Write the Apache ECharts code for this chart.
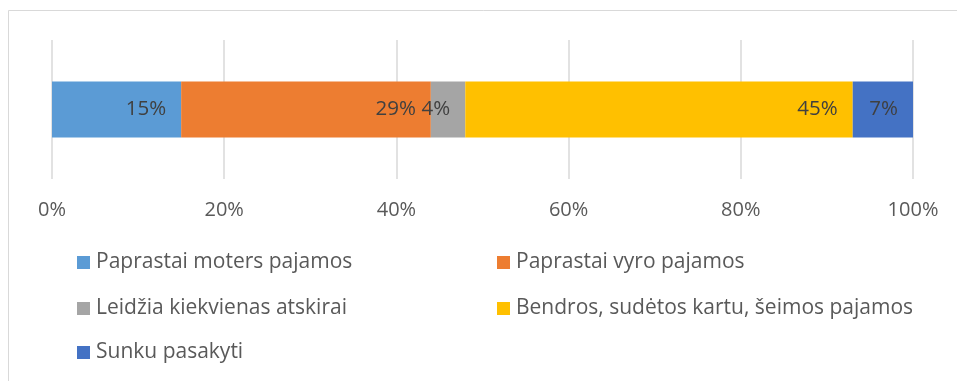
<!DOCTYPE html>
<html>
<head>
<meta charset="utf-8">
<script src="https://cdn.jsdelivr.net/npm/echarts@6/dist/echarts.min.js"></script>
<style>
  html, body { margin: 0; padding: 0; background: #fff; }
  #chart { width: 957px; height: 381px; }
</style>
</head>
<body>
<div id="chart"></div>
<script>
// Answers about who manages the household money (share of respondents, %)
const categories = ['Visi'];
const seriesNames = [
  'Paprastai moters pajamos',
  'Paprastai vyro pajamos',
  'Leidžia kiekvienas atskirai',
  'Bendros, sudėtos kartu, šeimos pajamos',
  'Sunku pasakyti'
];
const womanIncome = [15];
const manIncome = [29];
const separately = [4];
const jointIncome = [45];
const hardToSay = [7];
const seriesValues = [womanIncome, manIncome, separately, jointIncome, hardToSay];
const tickValues = [0, 20, 40, 60, 80, 100];

const colors = ['#5B9BD5', '#ED7D31', '#A5A5A5', '#FFC000', '#4472C4'];
const FONT = '"Open Sans", "Noto Sans", sans-serif';

// legend placement: two columns, three rows
const legendSlots = [
  { left: 77, top: 252 },
  { left: 497, top: 252 },
  { left: 77, top: 298 },
  { left: 497, top: 298 },
  { left: 77, top: 342 }
];

const chart = echarts.init(document.getElementById('chart'), null, { renderer: 'canvas' });

const option = {
  animation: false,
  backgroundColor: '#ffffff',
  graphic: [{
    type: 'rect',
    shape: { x: 8.5, y: 10.5, width: 1100, height: 600 },
    style: { fill: 'none', stroke: '#d9d9d9', lineWidth: 1 },
    silent: true,
    z: -10
  }],
  grid: { left: 52, right: 44, top: 40, bottom: 381 - 179, containLabel: false },
  xAxis: {
    type: 'value',
    min: tickValues[0],
    max: tickValues[tickValues.length - 1],
    interval: tickValues[1] - tickValues[0],
    axisLine: { show: false },
    axisTick: { show: false },
    splitLine: { show: true, lineStyle: { color: '#d9d9d9', width: 1.5 } },
    axisLabel: {
      formatter: '{value}%',
      color: '#595959',
      fontFamily: FONT,
      fontSize: 20,
      margin: 21
    }
  },
  yAxis: {
    type: 'category',
    data: categories,
    axisLine: { show: false },
    axisTick: { show: false },
    axisLabel: { show: false },
    splitLine: { show: false }
  },
  legend: seriesNames.map((name, i) => ({
    data: [name],
    left: legendSlots[i].left,
    top: legendSlots[i].top,
    padding: 0,
    icon: 'rect',
    itemWidth: 13,
    itemHeight: 13,
    selectedMode: false,
    textStyle: { color: '#595959', fontFamily: FONT, fontSize: 21, padding: [0, 0, 0, 1] }
  })),
  series: seriesNames.map((name, i) => ({
    name: name,
    type: 'bar',
    stack: 'total',
    barWidth: 56,
    data: seriesValues[i],
    itemStyle: { color: colors[i] },
    label: {
      show: true,
      position: 'insideRight',
      distance: 15,
      formatter: '{c}%',
      color: '#404040',
      fontFamily: FONT,
      fontSize: 20.5
    }
  }))
};

chart.setOption(option);
</script>
</body>
</html>
